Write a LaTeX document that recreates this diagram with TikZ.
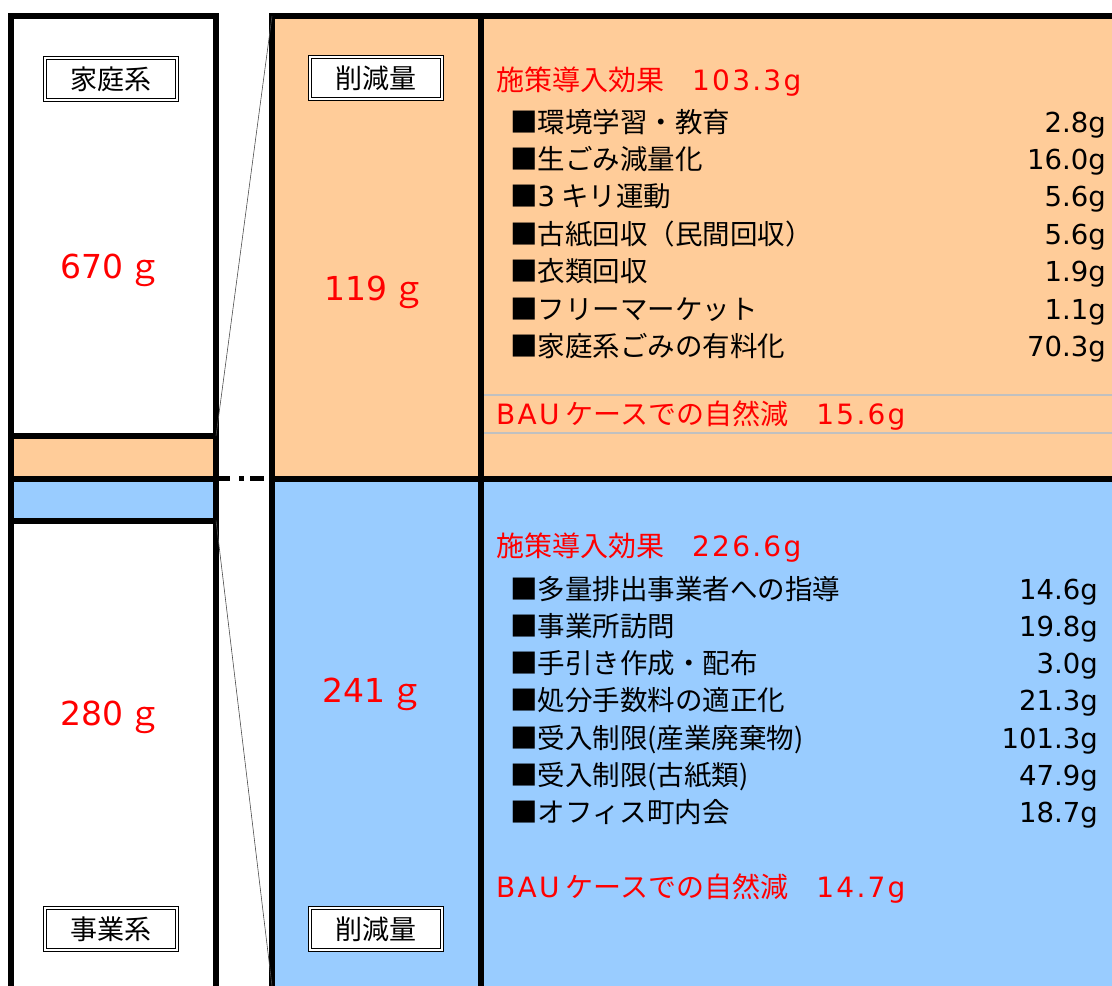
\documentclass[tikz,border=0pt]{standalone}
\usepackage{fontspec}
\setmainfont{Noto Sans CJK JP}
\newfontfamily\dv{DejaVu Sans}
\newfontfamily\dvw[LetterSpace=8]{DejaVu Sans}
\definecolor{peach}{HTML}{FFCC99}
\definecolor{sky}{HTML}{99CCFF}
\definecolor{gline}{HTML}{C0C0C0}
\begin{document}
\begin{tikzpicture}[x=1pt,y=-1pt,
  frame/.style={line width=6pt},
  labelbox/.style={draw, line width=1.4pt, double, double distance=2pt, fill=white, minimum width=132pt, minimum height=42pt, inner sep=0pt, font=\fontsize{27}{27}\selectfont},
  big/.style={text=red, font=\fontsize{33}{33}\selectfont, inner sep=0pt},
  ttl/.style={anchor=base west, text=red, font=\fontsize{28}{28}\selectfont, inner sep=0pt},
  item/.style={anchor=base west, font=\fontsize{27.5}{27.5}\selectfont, inner sep=0pt},
  val/.style={anchor=base east, font=\fontsize{27.5}{27.5}\selectfont\dv, inner sep=0pt},
  thin/.style={line width=0.6pt, black!70}]
\useasboundingbox (0,0) rectangle (1112,986);
% fills
\fill[peach] (11,436) rectangle (216,478);
\fill[sky] (11,478) rectangle (216,520);
\fill[peach] (272,16) rectangle (1112,478);
\fill[sky] (272,478) rectangle (1112,986);
% gray lines
\draw[gline, line width=2pt] (484,395) -- (1112,395);
\draw[gline, line width=2pt] (484,433) -- (1112,433);
% coordinates
\coordinate (lt) at (11,16);
\coordinate (rt) at (216,16);
\coordinate (mt) at (272,16);
\coordinate (ct) at (481,16);
\coordinate (et) at (1112,16);
\coordinate (lb) at (11,986);
\coordinate (rb) at (216,986);
\coordinate (mb) at (272,986);
\coordinate (cb) at (481,986);
\coordinate (h1l) at (11,436);
\coordinate (h1r) at (216,436);
\coordinate (h2l) at (11,478.5);
\coordinate (h2r) at (216,478.5);
\coordinate (h2m) at (272,478.5);
\coordinate (h2e) at (1112,478.5);
\coordinate (h3l) at (11,520.5);
\coordinate (h3r) at (216,520.5);
% frame lines
\draw[frame] (lb) -- (lt) -- (rt) -- (rb);
\draw[frame] (mb) -- (mt) -- (et);
\draw[frame] (ct) -- (cb);
\draw[frame] (h1l) -- (h1r);
\draw[frame] (h2l) -- (h2r);
\draw[frame] (h3l) -- (h3r);
\draw[frame] (h2m) -- (h2e);
\draw[line width=5pt, dash pattern=on 14pt off 9pt on 5pt off 6pt] (h2r) -- (h2m);
% thin lines
\draw[thin] (mt) -- (h1r);
\draw[thin] (h3r) -- (mb);
% labels
\node[labelbox] (kl) at (111,79) {家庭系};
\node[labelbox] (jl) at (111,929) {事業系};
\node[labelbox] (sl1) at (376,78) {削減量};
\node[labelbox] (sl2) at (376,929) {削減量};
% big numbers
\node[big] (n1) at (111,270) {{\dv 670}\,ｇ};
\node[big] (n2) at (375,292) {{\dv 119}\,ｇ};
\node[big] (n3) at (111,717) {{\dv 280}\,ｇ};
\node[big] (n4) at (373,694) {{\dv 241}\,ｇ};
% upper list
\node[ttl] (t1) at (496,90) {施策導入効果　{\dvw 103.3g}};
\node[item] (a1) at (510,132) {■環境学習・教育};
\node[item] (a2) at (510,169) {■生ごみ減量化};
\node[item] (a3) at (510,206) {■{\dv 3} キリ運動};
\node[item] (a4) at (510,244) {■古紙回収（民間回収）};
\node[item] (a5) at (510,281) {■衣類回収};
\node[item] (a6) at (510,319) {■フリーマーケット};
\node[item] (a7) at (510,356) {■家庭系ごみの有料化};
\node[val] (v1) at (1106,132) {2.8g};
\node[val] (v2) at (1106,169) {16.0g};
\node[val] (v3) at (1106,206) {5.6g};
\node[val] (v4) at (1106,244) {5.6g};
\node[val] (v5) at (1106,281) {1.9g};
\node[val] (v6) at (1106,319) {1.1g};
\node[val] (v7) at (1106,356) {70.3g};
\node[ttl] (b1) at (496,424) {{\dvw BAU} ケースでの自然減　{\dvw 15.6g}};
% lower list
\node[ttl] (t2) at (496,556) {施策導入効果　{\dvw 226.6g}};
\node[item] (c1) at (510,599) {■多量排出事業者への指導};
\node[item] (c2) at (510,636) {■事業所訪問};
\node[item] (c3) at (510,673) {■手引き作成・配布};
\node[item] (c4) at (510,710) {■処分手数料の適正化};
\node[item] (c5) at (510,748) {■受入制限(産業廃棄物)};
\node[item] (c6) at (510,785) {■受入制限(古紙類)};
\node[item] (c7) at (510,822) {■オフィス町内会};
\node[val] (w1) at (1098,599) {14.6g};
\node[val] (w2) at (1098,636) {19.8g};
\node[val] (w3) at (1098,673) {3.0g};
\node[val] (w4) at (1098,710) {21.3g};
\node[val] (w5) at (1098,748) {101.3g};
\node[val] (w6) at (1098,785) {47.9g};
\node[val] (w7) at (1098,822) {18.7g};
\node[ttl] (b2) at (496,897) {{\dvw BAU} ケースでの自然減　{\dvw 14.7g}};
\end{tikzpicture}
\end{document}
